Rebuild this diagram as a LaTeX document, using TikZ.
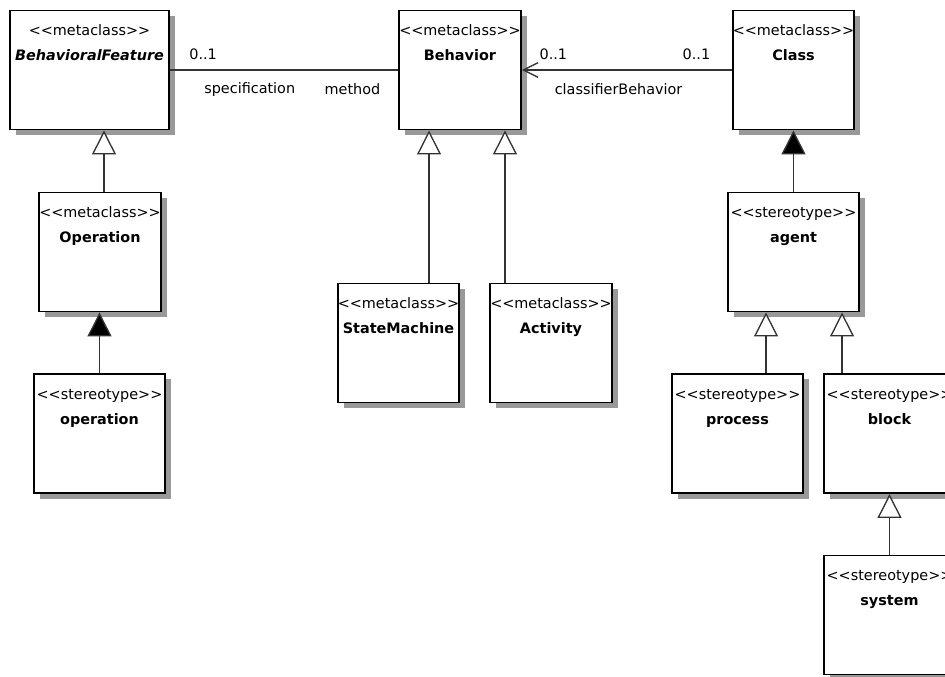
\documentclass[tikz,border=0pt]{standalone}
\usepackage{fontspec}
\setmainfont{DejaVu Sans}
\usepackage{tikz}
\usetikzlibrary{arrows.meta,shadows}

\newcommand\umlst[1]{<{}<#1>{}>}

\begin{document}
\begin{tikzpicture}[
  x=0.75pt, y=-0.75pt,
  font=\fontsize{10.8}{13}\selectfont,
  metabox/.style={rectangle, draw=black, line width=1.2pt, fill=white, minimum height=89.5pt, inner sep=0pt,
    drop shadow={shadow xshift=4.5pt, shadow yshift=-4pt, fill=black!40, opacity=1}},
  stereotext/.style={anchor=base, yshift=-19.5pt, inner sep=0pt},
  nametext/.style={anchor=base, yshift=-38.25pt, inner sep=0pt, font=\fontsize{10.8}{13}\selectfont\bfseries},
  gen/.style={draw=black!80, line width=1pt, -{Triangle[length=18pt, width=18pt, fill=white]}},
  ext/.style={draw=black!80, line width=1pt, -{Triangle[length=18pt, width=18pt, fill=black]}},
  assoc/.style={draw=black!80, line width=1pt},
  lbl/.style={inner sep=0pt}
]
\useasboundingbox (0,0) rectangle (945,677);
\clip (0,0) rectangle (945,677);
\fill[white] (0,0) rectangle (945,677);

% metaclasses
\node[metabox, minimum width=119.25pt, label={[stereotext]north:\umlst{metaclass}},
  label={[nametext]north:\textit{BehavioralFeature}}] (bfeat) at (89.5,70) {};
\node[metabox, minimum width=91.5pt, label={[stereotext]north:\umlst{metaclass}},
  label={[nametext]north:Behavior}] (bhv) at (460,70) {};
\node[metabox, minimum width=90.75pt, label={[stereotext]north:\umlst{metaclass}},
  label={[nametext]north:Class}] (cls) at (793.5,70) {};
\node[metabox, minimum width=91.5pt, label={[stereotext]north:\umlst{metaclass}},
  label={[nametext]north:Operation}] (oper) at (100,252) {};
\node[metabox, minimum width=90.75pt, label={[stereotext]north:\umlst{metaclass}},
  label={[nametext]north:StateMachine}] (stm) at (398.5,343) {};
\node[metabox, minimum width=91.5pt, label={[stereotext]north:\umlst{metaclass}},
  label={[nametext]north:Activity}] (act) at (551,343) {};

% stereotypes
\node[metabox, minimum width=98.25pt, label={[stereotext]north:\umlst{stereotype}},
  label={[nametext]north:operation}] (operst) at (99.5,433.5) {};
\node[metabox, minimum width=98.25pt, label={[stereotext]north:\umlst{stereotype}},
  label={[nametext]north:agent}] (agent) at (793.5,252) {};
\node[metabox, minimum width=98.25pt, label={[stereotext]north:\umlst{stereotype}},
  label={[nametext]north:process}] (proc) at (737.5,433.5) {};
\node[metabox, minimum width=98.25pt, label={[stereotext]north:\umlst{stereotype}},
  label={[nametext]north:block}] (blk) at (889.5,433.5) {};
\node[metabox, minimum width=98.25pt, label={[stereotext]north:\umlst{stereotype}},
  label={[nametext]north:system}] (sys) at (889.5,615) {};

% associations
\draw[assoc] (bfeat) -- (bhv)
  node[lbl, pos=0.146, yshift=12pt] {0..1}
  node[lbl, pos=0.35, yshift=-14.5pt] {specification}
  node[lbl, pos=0.8, yshift=-14.5pt] {method};
\draw[assoc, -{Straight Barb[length=11pt, width=11pt]}] (cls) -- (bhv)
  node[lbl, pos=0.17, yshift=12pt] {0..1}
  node[lbl, pos=0.54, yshift=-14.5pt] {classifierBehavior}
  node[lbl, pos=0.85, yshift=12pt] {0..1};

% generalizations and extensions
\draw[gen] ([xshift=3pt]oper.north) -- ([xshift=3pt]oper.north |- bfeat.south);
\draw[ext] (operst.north) -- (operst.north |- oper.south);
\draw[gen] ([xshift=22.9pt]stm.north) -- ([xshift=22.9pt]stm.north |- bhv.south);
\draw[gen] ([xshift=-34.5pt]act.north) -- ([xshift=-34.5pt]act.north |- bhv.south);
\draw[ext] (agent.north) -- (agent.north |- cls.south);
\draw[gen] ([xshift=21.4pt]proc.north) -- ([xshift=21.4pt]proc.north |- agent.south);
\draw[gen] ([xshift=-35.6pt]blk.north) -- ([xshift=-35.6pt]blk.north |- agent.south);
\draw[gen] (sys.north) -- (sys.north |- blk.south);
\end{tikzpicture}
\end{document}
